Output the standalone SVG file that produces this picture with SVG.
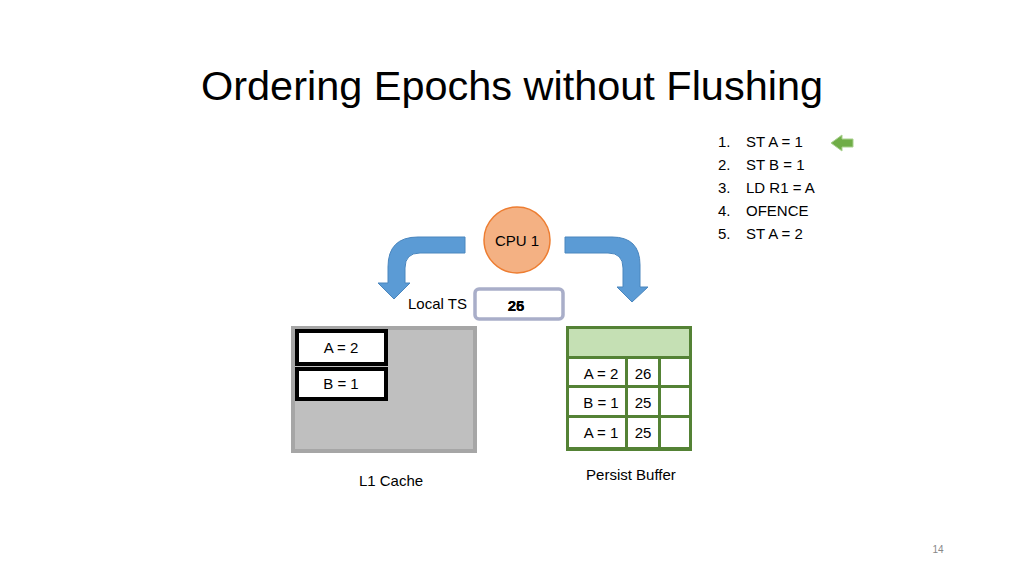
<svg xmlns="http://www.w3.org/2000/svg" width="1024" height="576" viewBox="0 0 1024 576">
<style>
text{font-family:"Liberation Sans",Arial,sans-serif;fill:#000}
.t15{font-size:15px}
.c{text-anchor:middle}
.blue{fill:#5B9BD5;stroke:#4A86BE;stroke-width:1}
.cell{fill:#fff}
.entry{fill:#fff;stroke:#000;stroke-width:4}
</style>
<rect width="1024" height="576" fill="#fff"/>
<text x="512" y="100" class="c" font-size="40" textLength="622" lengthAdjust="spacingAndGlyphs">Ordering Epochs without Flushing</text>

<g id="instructions" class="t15">
<text x="718" y="147">1.</text><text x="746" y="147">ST A = 1</text>
<text x="718" y="170">2.</text><text x="746" y="170">ST B = 1</text>
<text x="718" y="193">3.</text><text x="746" y="193">LD R1 = A</text>
<text x="718" y="216">4.</text><text x="746" y="216">OFENCE</text>
<text x="718" y="239">5.</text><text x="746" y="239">ST A = 2</text>
</g>
<g id="pointer">
<path d="M831,143 L842,135 L842,139 L853,139 L853,147 L842,147 L842,151 Z" fill="#70AD47" stroke="#A9D18E" stroke-width="1"/>
</g>

<g id="connectors">
<path class="blue" d="M465,237 L418,237 Q388,237 388,267 L388,283 L378,283 L394,299 L410,283 L405,283 L405,268 Q405,253 420,253 L465,253 Z"/>
<path class="blue" d="M565,237 L612,237 Q640,237 640,265 L640,287 L648,287 L632,302 L617,287 L623,287 L623,268 Q623,253 608,253 L565,253 Z"/>
</g>

<g id="cpu">
<circle cx="517" cy="240" r="33" fill="#F4B183" stroke="#ED7D31" stroke-width="1.5"/>
<text x="517" y="246" class="c t15">CPU 1</text>
</g>

<g id="localts">
<text x="408" y="309" class="t15">Local TS</text>
<rect x="475" y="289" width="88" height="30" rx="4" fill="#fff" stroke="#A9AEC9" stroke-width="3.5"/>
<text x="516" y="311" class="c t15" font-weight="bold">25</text>
<text x="516" y="311" class="c t15" font-weight="bold">26</text>
</g>

<g id="l1cache">
<rect x="293" y="328" width="182" height="123" fill="#BFBFBF" stroke="#A6A6A6" stroke-width="4"/>
<rect class="entry" x="297" y="331" width="89" height="33"/>
<text x="341" y="353" class="c t15">A = 2</text>
<rect class="entry" x="297" y="369" width="89" height="30"/>
<text x="341" y="389" class="c t15">B = 1</text>
<text x="391" y="486" class="c t15">L1 Cache</text>
</g>

<g id="persistbuffer">
<rect x="566" y="326" width="126" height="125" fill="#548235"/>
<rect x="569" y="329" width="120" height="27" fill="#C5E0B4"/>
<rect class="cell" x="569" y="359" width="56" height="26"/>
<rect class="cell" x="628" y="359" width="30" height="26"/>
<rect class="cell" x="661" y="359" width="28" height="26"/>
<rect class="cell" x="569" y="388" width="56" height="27"/>
<rect class="cell" x="628" y="388" width="30" height="27"/>
<rect class="cell" x="661" y="388" width="28" height="27"/>
<rect class="cell" x="569" y="418" width="56" height="29"/>
<rect class="cell" x="628" y="418" width="30" height="29"/>
<rect class="cell" x="661" y="418" width="28" height="29"/>
<text x="601" y="379" class="c t15">A = 2</text>
<text x="643" y="379" class="c t15">26</text>
<text x="601" y="408" class="c t15">B = 1</text>
<text x="643" y="408" class="c t15">25</text>
<text x="601" y="438" class="c t15">A = 1</text>
<text x="643" y="438" class="c t15">25</text>
<text x="631" y="480" class="c t15">Persist Buffer</text>
</g>

<text x="938" y="553" class="c" font-size="10" fill="#888" style="fill:#888">14</text>
</svg>
